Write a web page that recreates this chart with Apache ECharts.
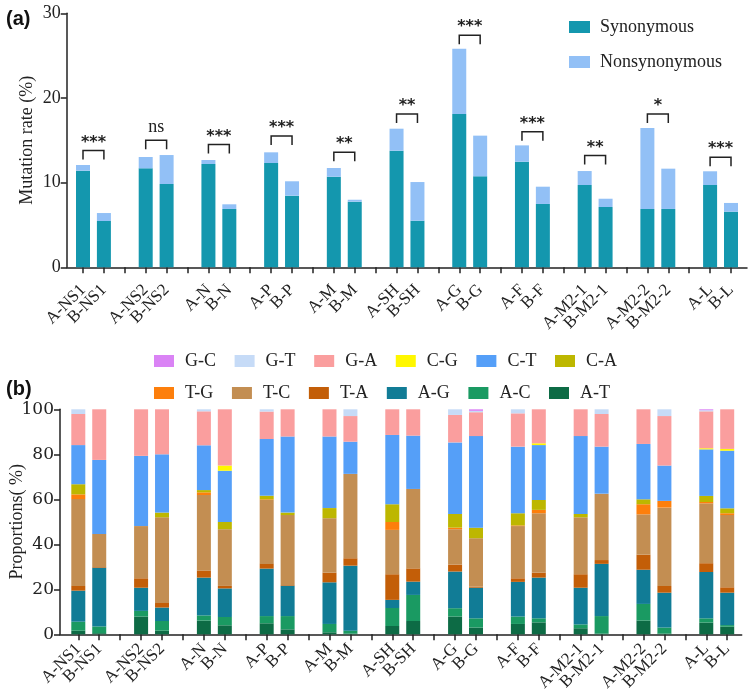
<!DOCTYPE html>
<html>
<head>
<meta charset="utf-8">
<script src="https://cdn.jsdelivr.net/npm/echarts@6/dist/echarts.min.js"></script>
<style>
  html, body { margin: 0; background: #fff; }
  #chart { width: 750px; height: 700px; }
</style>
</head>
<body>
<div id="chart"></div>
<script>
// 分组 (A/B 成对)
const groups = ['NS1', 'NS2', 'N', 'P', 'M', 'SH', 'G', 'F', 'M2-1', 'M2-2', 'L'];

// (a) 突变率 %
const synonymous = [11.41, 5.47, 11.69, 9.84, 12.2, 6.89, 12.32, 8.46, 10.7, 7.75, 13.77, 5.5,
  18.1, 10.75, 12.47, 7.48, 9.72, 7.12, 6.89, 6.89, 9.72, 6.57];
const nonsynonymous = [0.67, 0.94, 1.34, 3.42, 0.47, 0.55, 1.26, 1.7, 1.03, 0.23, 2.6, 4.57,
  7.7, 4.8, 1.93, 2.04, 1.65, 0.98, 9.56, 4.76, 1.62, 1.03];

// 显著性标记
const sigLabels = ['***', 'ns', '***', '***', '**', '**', '***', '***', '**', '*', '***'];
const sigHeights = [13.8, 15.0, 14.5, 15.5, 13.6, 18.1, 27.4, 16.0, 13.2, 18.1, 13.0];

// (b) 各突变类型比例 %，自下而上
const typeAT = [1.6, 0.5, 7.9, 1.6, 6.1, 4.0, 4.9, 2.2, 0.9, 0.3, 3.7, 5.9, 7.9, 3.0, 4.6, 5.3, 2.7, 0.3, 6.1, 0.3, 5.2, 3.4];
const typeAC = [4.0, 3.0, 2.5, 4.3, 2.3, 3.7, 3.2, 5.9, 3.7, 1.3, 8.0, 11.6, 3.7, 4.1, 3.3, 1.8, 1.7, 7.8, 7.4, 2.7, 1.9, 0.7];
const typeAG = [13.8, 26.1, 10.3, 6.0, 16.8, 12.7, 21.1, 13.5, 18.5, 28.9, 3.6, 5.9, 16.3, 13.6, 15.4, 18.1, 16.3, 23.2, 15.2, 15.5, 20.6, 14.4];
const typeTA = [2.1, 0.3, 4.2, 2.0, 3.1, 1.1, 2.1, 0.3, 4.3, 3.3, 11.4, 5.9, 3.1, 0.5, 1.6, 2.2, 6.0, 1.7, 6.7, 3.0, 3.9, 2.4];
const typeTC = [38.6, 14.7, 23.2, 38.1, 33.6, 25.2, 28.4, 31.1, 24.2, 37.5, 19.7, 35.3, 15.7, 21.5, 23.2, 26.4, 25.3, 29.5, 17.9, 34.8, 26.6, 32.1];
const typeTG = [2.1, 0, 0, 0, 1.2, 0, 0.3, 0, 0, 0, 3.5, 0, 0.7, 0, 0.3, 1.5, 0, 0, 4.5, 3.0, 0.6, 0.8];
const typeCA = [4.5, 0, 0, 2.1, 1.0, 3.2, 1.6, 1.1, 4.5, 0, 7.9, 0, 6.1, 4.7, 5.4, 4.4, 1.5, 0, 2.2, 0, 2.7, 2.2];
const typeCT = [17.4, 32.9, 31.2, 25.9, 19.9, 22.8, 25.2, 33.8, 31.8, 14.3, 30.8, 23.7, 31.8, 40.7, 29.6, 24.4, 34.6, 20.9, 24.6, 15.7, 20.7, 25.6];
const typeCG = [0, 0, 0, 0, 0, 2.3, 0, 0, 0, 0, 0, 0, 0, 0, 0, 0.8, 0, 0, 0, 0, 0.5, 0.8];
const typeGA = [13.8, 22.5, 20.7, 20.0, 15.1, 25.0, 12.2, 12.1, 12.1, 11.4, 11.4, 11.7, 12.2, 10.6, 14.8, 15.1, 11.9, 14.5, 15.4, 22.0, 16.4, 17.6];
const typeGT = [2.1, 0, 0, 0, 0.9, 0, 1.0, 0, 0, 3.0, 0, 0, 2.5, 0.6, 1.8, 0, 0, 2.1, 0, 3.0, 0.5, 0];
const typeGC = [0, 0, 0, 0, 0, 0, 0, 0, 0, 0, 0, 0, 0, 0.7, 0, 0, 0, 0, 0, 0, 0.4, 0];

const mutationTypes = ['A-T', 'A-C', 'A-G', 'T-A', 'T-C', 'T-G', 'C-A', 'C-T', 'C-G', 'G-A', 'G-T', 'G-C'];
const mutationValues = [typeAT, typeAC, typeAG, typeTA, typeTC, typeTG, typeCA, typeCT, typeCG, typeGA, typeGT, typeGC];
const mutationColors = ['#0d6b45', '#1a9a62', '#117c96', '#c35e08', '#c38e52', '#fd7f0c',
  '#bdb700', '#559ff8', '#fff700', '#fa9e9e', '#c6dbf7', '#da83f5'];

// 类目：每组 A、B 后留一个空位
const slots = [];
groups.forEach((g, i) => {
  slots.push('A-' + g, 'B-' + g);
  if (i < groups.length - 1) slots.push('gap' + i);
});

// 把 22 个值放进 32 个位置
const toSlots = (values) => {
  const out = slots.map(() => '-');
  values.forEach((v, i) => {
    out[Math.floor(i / 2) * 3 + (i % 2)] = v;
  });
  return out;
};

const serif = 'Liberation Serif';
const black = '#222';

const frameX = (gridIndex) => ({
  gridIndex, type: 'value', min: 0, max: 1,
  axisLine: { show: true, lineStyle: { color: black, width: 1.5 } },
  axisTick: { show: false }, axisLabel: { show: false }, splitLine: { show: false }
});

const barX = (gridIndex, margin) => ({
  gridIndex, type: 'category', data: slots, boundaryGap: false,
  axisLine: { show: false },
  axisTick: { show: true, interval: 0, length: 6, lineStyle: { color: black, width: 1.5 } },
  axisLabel: {
    interval: 0, rotate: 45, margin, fontFamily: serif, fontSize: 17, color: black,
    formatter: (v) => (v.indexOf('gap') === 0 ? '' : v)
  }
});

const frameY = (gridIndex, max, interval, name, nameGap, labelFont, labelSize) => ({
  gridIndex, type: 'value', min: 0, max, interval,
  name, nameLocation: 'middle', nameGap, nameMoveOverlap: false,
  nameTextStyle: { fontFamily: serif, fontSize: 18, color: black },
  axisLine: { show: true, lineStyle: { color: black, width: 1.5 } },
  axisTick: { show: true, length: 6, lineStyle: { color: black, width: 1.5 } },
  axisLabel: { fontFamily: labelFont, fontSize: labelSize, color: black, margin: 6 },
  splitLine: { show: false }
});

const hiddenY = (gridIndex, max) => ({ gridIndex, type: 'value', min: 0, max, show: false, splitLine: { show: false } });

const chart = echarts.init(document.getElementById('chart'));

const option = {
  animation: false,
  backgroundColor: '#fff',
  title: [
    { text: '(a)', left: 1, top: 4, textStyle: { fontFamily: 'Liberation Sans', fontWeight: 'bold', fontSize: 20, color: '#111' } },
    { text: '(b)', left: 1, top: 374, textStyle: { fontFamily: 'Liberation Sans', fontWeight: 'bold', fontSize: 20, color: '#111' } }
  ],
  legend: [
    {
      data: ['Synonymous', 'Nonsynonymous'], orient: 'vertical', left: 564, top: 13,
      icon: 'rect', itemWidth: 21, itemHeight: 12, itemGap: 17, selectedMode: false,
      textStyle: { fontFamily: serif, fontSize: 18, color: black, padding: [0, 0, 0, 5] }
    },
    {
      data: ['G-C', 'G-T', 'G-A', 'C-G', 'C-T', 'C-A'], left: 149, top: 347,
      icon: 'rect', itemWidth: 20, itemHeight: 12, itemGap: 18.6, selectedMode: false,
      textStyle: { fontFamily: serif, fontSize: 18, color: black, width: 36, padding: [0, 0, 0, 6] }
    },
    {
      data: ['T-G', 'T-C', 'T-A', 'A-G', 'A-C', 'A-T'], left: 149, top: 379,
      icon: 'rect', itemWidth: 20, itemHeight: 12, itemGap: 18.6, selectedMode: false,
      textStyle: { fontFamily: serif, fontSize: 18, color: black, width: 36, padding: [0, 0, 0, 6] }
    }
  ],
  grid: [
    { left: 66.7, right: 3, top: 13.3, height: 254 },
    { left: 83, right: 19, top: 13.3, height: 254 },
    { left: 60, right: 8.3, top: 409.3, height: 225 },
    { left: 78.3, right: 22.8, top: 409.3, height: 225 }
  ],
  xAxis: [frameX(0), barX(1, 20), frameX(2), barX(3, 12)],
  yAxis: [
    frameY(0, 30, 10, 'Mutation rate (%)', 30, serif, 18),
    hiddenY(1, 30),
    frameY(2, 100, 20, 'Proportions( %)', 34, 'DejaVu Serif', 17),
    hiddenY(3, 100)
  ],
  series: [
    {
      name: 'Synonymous', type: 'bar', xAxisIndex: 1, yAxisIndex: 1, stack: 'rate',
      barWidth: 14, itemStyle: { color: '#1497ae' }, data: toSlots(synonymous)
    },
    {
      name: 'Nonsynonymous', type: 'bar', xAxisIndex: 1, yAxisIndex: 1, stack: 'rate',
      barWidth: 14, itemStyle: { color: '#92c0f6' }, data: toSlots(nonsynonymous)
    },
    {
      name: 'sig', type: 'custom', xAxisIndex: 1, yAxisIndex: 1,
      encode: { x: [0, 1], y: 2 },
      data: groups.map((g, i) => [i * 3, i * 3 + 1, sigHeights[i]]),
      renderItem: function (params, api) {
        const p1 = api.coord([api.value(0), api.value(2)]);
        const p2 = api.coord([api.value(1), api.value(2)]);
        const label = sigLabels[params.dataIndex];
        const isNs = label === 'ns';
        return {
          type: 'group',
          children: [
            {
              type: 'polyline',
              shape: { points: [[p1[0], p1[1] + 9], p1, p2, [p2[0], p2[1] + 9]] },
              style: { stroke: black, lineWidth: 1.5, fill: 'none' }
            },
            {
              type: 'text',
              x: (p1[0] + p2[0]) / 2,
              y: p1[1] - (isNs ? 4 : 0),
              style: {
                text: label, align: 'center', verticalAlign: 'bottom', fill: black,
                fontFamily: isNs ? serif : 'DejaVu Sans', fontWeight: isNs ? 'normal' : 'bold',
                fontSize: isNs ? 18 : 16
              }
            }
          ]
        };
      }
    }
  ].concat(mutationTypes.map((t, k) => ({
    name: t, type: 'bar', xAxisIndex: 3, yAxisIndex: 3, stack: 'prop',
    barWidth: 14, itemStyle: { color: mutationColors[k] }, data: toSlots(mutationValues[k])
  })))
};

chart.setOption(option);
</script>
</body>
</html>
